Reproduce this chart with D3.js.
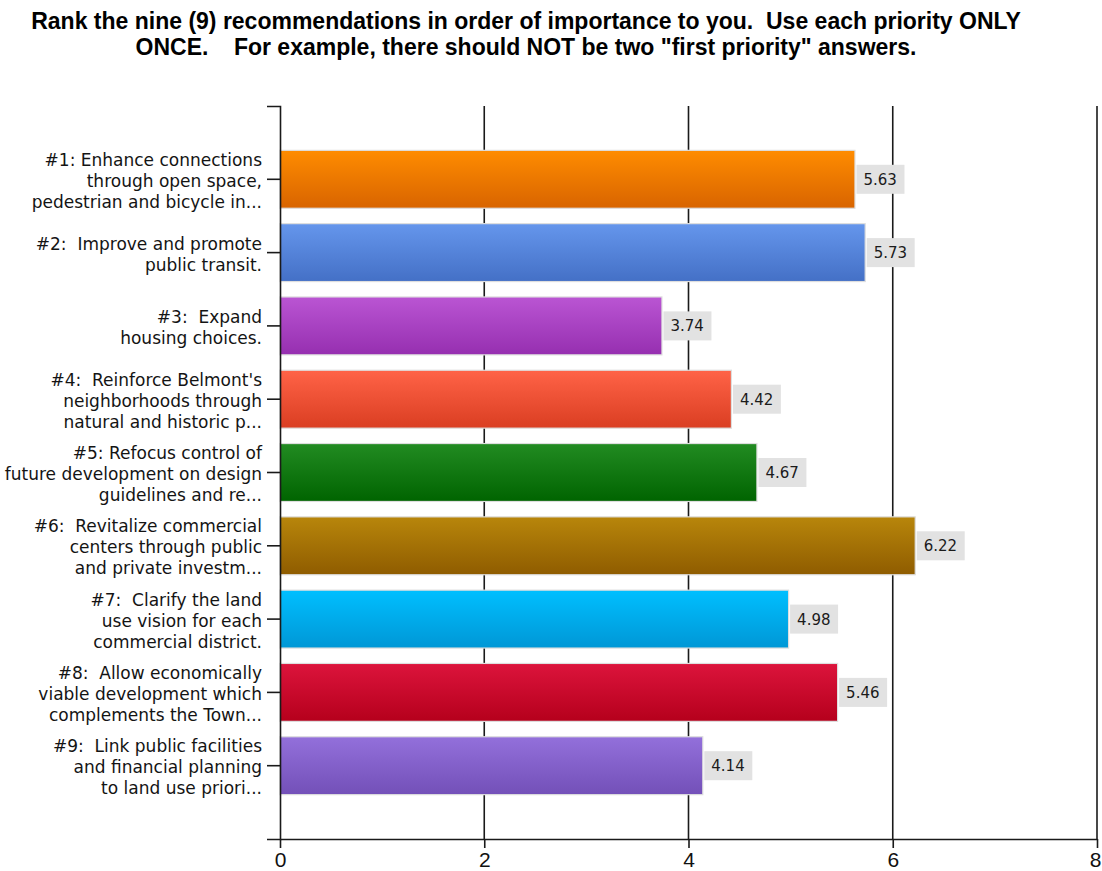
<!DOCTYPE html>
<html>
<head>
<meta charset="utf-8">
<script src="https://cdn.jsdelivr.net/npm/d3@7"></script>
<style>
  html, body { margin: 0; padding: 0; background: #ffffff; }
  svg { display: block; }
  text { white-space: pre; }
</style>
</head>
<body>
<svg id="chart" width="1102" height="871"></svg>
<script>
// Survey question shown as the chart heading
const titleLines = [
  "Rank the nine (9) recommendations in order of importance to you.  Use each priority ONLY",
  "ONCE.    For example, there should NOT be two \"first priority\" answers."
];

// Recommendation labels, already wrapped into lines
const categories = [
  ["#1: Enhance connections", "through open space,", "pedestrian and bicycle in..."],
  ["#2:  Improve and promote", "public transit."],
  ["#3:  Expand", "housing choices."],
  ["#4:  Reinforce Belmont's", "neighborhoods through", "natural and historic p..."],
  ["#5: Refocus control of", "future development on design", "guidelines and re..."],
  ["#6:  Revitalize commercial", "centers through public", "and private investm..."],
  ["#7:  Clarify the land", "use vision for each", "commercial district."],
  ["#8:  Allow economically", "viable development which", "complements the Town..."],
  ["#9:  Link public facilities", "and financial planning", "to land use priori..."]
];

// Average ranking score for each recommendation
const values = [5.63, 5.73, 3.74, 4.42, 4.67, 6.22, 4.98, 5.46, 4.14];

// Bar gradient colours (top, bottom)
const colorsTop    = ["#ff8c00", "#6596ec", "#ba55d3", "#ff6347", "#228b22", "#b8860b", "#00bfff", "#dc143c", "#9370db"];
const colorsBottom = ["#d86400", "#4470c6", "#962fb0", "#da3e22", "#006400", "#8f5c00", "#0097d6", "#b5001c", "#7350b8"];

const xTicks = [0, 2, 4, 6, 8];

const svg = d3.select("#chart");
const plot = { left: 280, right: 1097, top: 106, bottom: 839 };

const x = d3.scaleLinear().domain([0, 8]).range([plot.left, plot.right]);
const y = d3.scaleBand()
  .domain(d3.range(values.length))
  .range([plot.top, plot.bottom])
  .paddingInner(0.21)
  .paddingOuter(0.605);

// Title
svg.append("g").selectAll("text")
  .data(titleLines)
  .join("text")
  .attr("x", 526)
  .attr("y", (d, i) => 29 + i * 26)
  .attr("text-anchor", "middle")
  .attr("font-family", "'Liberation Sans', Arial, sans-serif")
  .attr("font-weight", "bold")
  .attr("font-size", 23)
  .attr("fill", "#000")
  .text(d => d);

// Gradients
const defs = svg.append("defs");
values.forEach((v, i) => {
  const g = defs.append("linearGradient")
    .attr("id", "barGrad" + i)
    .attr("x1", 0).attr("y1", 0).attr("x2", 0).attr("y2", 1);
  g.append("stop").attr("offset", "0%").attr("stop-color", colorsTop[i]);
  g.append("stop").attr("offset", "100%").attr("stop-color", colorsBottom[i]);
});

// Vertical gridlines
svg.append("g").selectAll("line")
  .data(xTicks.filter(t => t > 0))
  .join("line")
  .attr("x1", d => x(d)).attr("x2", d => x(d))
  .attr("y1", plot.top).attr("y2", plot.bottom)
  .attr("stroke", "#1a1a1a")
  .attr("stroke-width", 1.6);

// Bars
svg.append("g").selectAll("rect")
  .data(values)
  .join("rect")
  .attr("x", x(0))
  .attr("y", (d, i) => y(i))
  .attr("width", d => x(d) - x(0))
  .attr("height", y.bandwidth())
  .attr("fill", (d, i) => `url(#barGrad${i})`)
  .attr("stroke", "#dedede")
  .attr("stroke-width", 1.2);

// Value labels with grey boxes
const labelG = svg.append("g").selectAll("g")
  .data(values)
  .join("g")
  .attr("transform", (d, i) => `translate(${x(d) + 1.5},${y(i) + y.bandwidth() / 2})`);

labelG.append("rect")
  .attr("x", 0)
  .attr("y", -14.5)
  .attr("width", 48)
  .attr("height", 29)
  .attr("fill", "#e2e2e2");

labelG.append("text")
  .attr("x", 7)
  .attr("y", 5.5)
  .attr("font-family", "'DejaVu Sans', sans-serif")
  .attr("font-size", 15)
  .attr("fill", "#1b1b1b")
  .text(d => d.toFixed(2));

// Y axis (category ticks)
const yAxis = svg.append("g")
  .attr("transform", `translate(${plot.left},0)`)
  .call(d3.axisLeft(y).tickSize(13).tickSizeOuter(13).tickFormat(""));
yAxis.selectAll("path, line").attr("stroke", "#1a1a1a").attr("stroke-width", 1.6);

// Category labels
yAxis.selectAll(".tick").each(function(i) {
  const lines = categories[i];
  const n = lines.length;
  d3.select(this).append("text")
    .attr("text-anchor", "end")
    .attr("font-family", "'DejaVu Sans', sans-serif")
    .attr("font-size", 17)
    .attr("fill", "#141414")
    .selectAll("tspan")
    .data(lines)
    .join("tspan")
    .attr("x", -18)
    .attr("y", (d, k) => (k - (n - 1) / 2) * 21 + 7.5)
    .text(d => d);
});

// X axis
const xAxis = svg.append("g")
  .attr("transform", `translate(0,${plot.bottom})`)
  .call(d3.axisBottom(x).tickValues(xTicks).tickSize(9).tickSizeOuter(0).tickFormat(d3.format("d")));
xAxis.selectAll("path, line").attr("stroke", "#1a1a1a").attr("stroke-width", 1.6);
xAxis.selectAll("text")
  .attr("y", 28)
  .attr("dy", 0)
  .attr("font-family", "'Liberation Sans', Arial, sans-serif")
  .attr("font-size", 21)
  .attr("fill", "#111");
// The last tick label sits against the right edge; keep it inside the frame
xAxis.selectAll("text").filter(d => d === 8).attr("text-anchor", "end").attr("x", 4);
</script>
</body>
</html>
